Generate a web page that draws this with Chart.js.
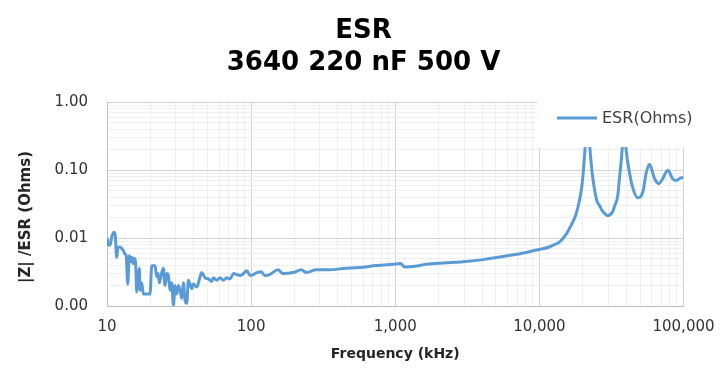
<!DOCTYPE html>
<html><head><meta charset="utf-8">
<script src="https://cdn.jsdelivr.net/npm/chart.js@4"></script>
<style>html,body{margin:0;padding:0;background:#fff}canvas{display:block}</style>
</head><body>
<canvas id="c" width="727" height="380" style="width:727px;height:380px"></canvas>
<script>
const titleLines = ['ESR', '3640 220 nF 500 V'];
const seriesLabel = 'ESR(Ohms)';
const xAxisTitle = 'Frequency (kHz)';
const yAxisTitle = '|Z| /ESR (Ohms)';

const freqKHz = [
  10.0, 10.25, 10.5, 10.8, 11.18, 11.4, 11.68, 11.92, 12.3, 12.65,
  13.0, 13.34, 13.6, 13.92, 14.29, 14.6, 14.84, 15.22, 15.5, 15.82,
  16.08, 16.4, 16.76, 16.95, 17.4, 17.87, 18.8, 19.89, 20.44, 21.54,
  22.14, 22.6, 23.08, 23.98, 24.6, 25.28, 25.98, 26.65, 27.38, 28.14,
  28.87, 29.67, 30.48, 31.27, 32.14, 33.02, 33.88, 34.81, 35.77, 36.69,
  38.74, 39.74, 41.97, 44.24, 45.46, 47.93, 50.52, 53.34, 54.72, 57.78,
  60.91, 64.21, 67.82, 71.5, 75.37, 79.57, 83.87, 88.42, 93.35, 98.42,
  103.8, 109.5, 117.7, 124.1, 134.4, 153.5, 166.3, 195.1, 223.2, 241.7,
  283.7, 350.9, 434.1, 566.9, 740.3, 965.4, 1087, 1164, 1366, 1647,
  2148, 2957, 4072, 5317, 6946, 9056, 10000, 11734, 12371, 13766,
  15322, 16604, 17983, 18957, 19796, 20535, 21644, 22494, 23450, 25000,
  26102, 27384, 29811, 32285, 33176, 34988, 35938, 37523, 38618, 40000,
  41695, 44444, 48162, 52170, 55080, 58070, 61200, 62885, 67360, 71820,
  77800, 84290, 88990, 96380, 100000
];
const esrOhms = [
  0.0100, 0.0080, 0.0078, 0.0105, 0.0122, 0.0110, 0.0052, 0.0073, 0.0074, 0.0070,
  0.0065, 0.0058, 0.0055, 0.0021, 0.0055, 0.0045, 0.0052, 0.0042, 0.0050, 0.0040,
  0.0016, 0.0025, 0.0036, 0.0017, 0.0022, 0.0015, 0.0015, 0.0015, 0.0039, 0.0039,
  0.0027, 0.0030, 0.0022, 0.0031, 0.0036, 0.0020, 0.0030, 0.0028, 0.0017, 0.0022,
  0.00103, 0.0020, 0.0015, 0.0020, 0.0017, 0.0013, 0.0022, 0.0012, 0.0011, 0.0024,
  0.0018, 0.0021, 0.0019, 0.0027, 0.0031, 0.0026, 0.0025, 0.0023, 0.0026, 0.0024,
  0.0026, 0.0024, 0.0026, 0.0025, 0.0030, 0.0029, 0.0028, 0.0030, 0.0033, 0.0028,
  0.0029, 0.0031, 0.0032, 0.0028, 0.0029, 0.0034, 0.0030, 0.0031, 0.0034, 0.0031,
  0.0034, 0.0034, 0.00356, 0.00368, 0.00393, 0.00412, 0.00421, 0.00376, 0.00384, 0.00412,
  0.0043, 0.00446, 0.00481, 0.00525, 0.00575, 0.00648, 0.0068, 0.00737, 0.0078, 0.0087,
  0.0113, 0.0153, 0.0225, 0.0355, 0.062, 0.151, 0.6, 0.19, 0.078, 0.036,
  0.030, 0.025, 0.0213, 0.0245, 0.029, 0.042, 0.075, 0.2, 0.6, 0.2,
  0.105, 0.055, 0.039, 0.047, 0.09, 0.122, 0.09, 0.075, 0.063, 0.075,
  0.099, 0.074, 0.070, 0.077, 0.077
];

const xMajorTicks = [10, 100, 1000, 10000, 100000];
const xTickLabels = ['10', '100', '1,000', '10,000', '100,000'];
const yMajorTicks = [0.001, 0.01, 0.1, 1];
const yTickLabels = ['0.00', '0.01', '0.10', '1.00'];

const FONT = 'DejaVu Sans';
const LINE_COLOR = '#5B9BD5';

function buildTicks(majors) {
  const out = [];
  for (let i = 0; i < majors.length - 1; i++) {
    for (let m = 1; m <= 9; m++) out.push({ value: majors[i] * m });
  }
  out.push({ value: majors[majors.length - 1] });
  return out;
}
function majorIndex(majors, v) {
  for (let i = 0; i < majors.length; i++) {
    if (Math.abs(v - majors[i]) <= majors[i] * 1e-6) return i;
  }
  return -1;
}
function gridColor(majors) {
  return ctx => (ctx.tick && majorIndex(majors, ctx.tick.value) >= 0) ? '#D4D4D4' : '#EFEFEF';
}

const points = freqKHz.map((f, i) => ({ x: f, y: esrOhms[i] }));

const boxLegend = {
  id: 'boxLegend',
  afterDraw(chart) {
    const ctx = chart.ctx;
    const a = chart.chartArea;
    const left = chart.width - 190;
    ctx.save();
    ctx.fillStyle = '#ffffff';
    ctx.fillRect(left, a.top - 3, chart.width - left, 147 - (a.top - 3));
    const ly = a.top + 16;
    ctx.strokeStyle = LINE_COLOR;
    ctx.lineWidth = 3;
    ctx.beginPath();
    ctx.moveTo(left + 20, ly);
    ctx.lineTo(left + 60, ly);
    ctx.stroke();
    ctx.fillStyle = '#404040';
    ctx.font = '16px "' + FONT + '"';
    ctx.textBaseline = 'middle';
    ctx.textAlign = 'left';
    ctx.fillText(chart.data.datasets[0].label, left + 65, ly + 1);
    // y axis title
    ctx.translate(26, (a.top + a.bottom) / 2 + 13);
    ctx.rotate(-Math.PI / 2);
    ctx.fillStyle = '#262626';
    ctx.font = 'bold 15px "' + FONT + '"';
    ctx.textAlign = 'center';
    ctx.fillText(yAxisTitle, 0, 0);
    ctx.restore();
  }
};

new Chart(document.getElementById('c'), {
  type: 'line',
  data: {
    datasets: [{
      label: seriesLabel,
      data: points,
      borderColor: LINE_COLOR,
      backgroundColor: LINE_COLOR,
      borderWidth: 3,
      pointRadius: 0,
      cubicInterpolationMode: 'monotone',
      fill: false,
      yAxisID: 'y'
    }]
  },
  options: {
    responsive: false,
    animation: false,
    devicePixelRatio: 1,
    layout: { padding: 0 },
    plugins: {
      legend: { display: false },
      tooltip: { enabled: false },
      title: {
        display: true,
        text: titleLines,
        color: '#000000',
        font: { family: FONT, size: 26, weight: 'bold', lineHeight: 32 / 26 },
        padding: { top: 15, bottom: 23 }
      }
    },
    scales: {
      x: {
        type: 'logarithmic',
        min: 10, max: 100000,
        afterBuildTicks: s => { s.ticks = buildTicks(xMajorTicks); },
        afterFit: s => { s.height = 74; },
        grid: { color: gridColor(xMajorTicks), drawTicks: false, lineWidth: 1 },
        border: { color: '#BFBFBF', width: 1 },
        ticks: {
          autoSkip: false, maxRotation: 0, minRotation: 0, padding: 12,
          color: '#333333',
          font: { family: FONT, size: 15 },
          callback: v => { const i = majorIndex(xMajorTicks, v); return i >= 0 ? xTickLabels[i] : ''; }
        },
        title: {
          display: true, text: xAxisTitle, color: '#262626',
          font: { family: FONT, size: 14, weight: 'bold' },
          padding: { top: 17.6, bottom: 17.6 }
        }
      },
      y: {
        type: 'logarithmic',
        position: 'left',
        min: 0.001, max: 1,
        afterBuildTicks: s => { s.ticks = buildTicks(yMajorTicks); },
        afterFit: s => { s.width = 107; },
        grid: { color: gridColor(yMajorTicks), drawTicks: false, lineWidth: 1 },
        border: { color: '#BFBFBF', width: 1 },
        ticks: {
          autoSkip: false, padding: 19,
          color: '#333333',
          font: { family: FONT, size: 15 },
          callback: v => { const i = majorIndex(yMajorTicks, v); return i >= 0 ? yTickLabels[i] : ''; }
        },
        title: { display: false }
      },
      yPad: {
        type: 'linear',
        position: 'right',
        display: true,
        grid: { display: false, drawTicks: false },
        border: { display: false },
        ticks: { display: false },
        title: { display: false },
        afterFit: s => { s.width = 43.5; }
      }
    }
  },
  plugins: [boxLegend]
});
</script>
</body></html>
